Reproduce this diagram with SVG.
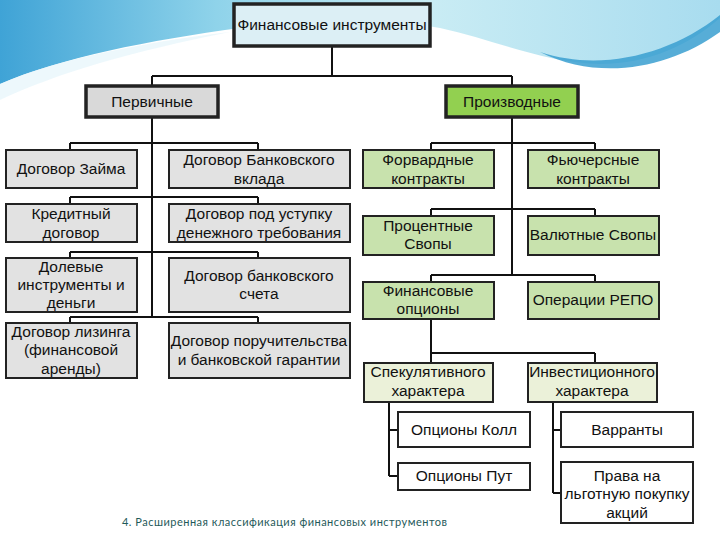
<svg xmlns="http://www.w3.org/2000/svg" width="720" height="540" viewBox="0 0 720 540">
<defs>
<linearGradient id="sky" x1="0" y1="0" x2="1" y2="0">
<stop offset="0" stop-color="#3fa3d6"/>
<stop offset="0.3" stop-color="#8fd3ea"/>
<stop offset="0.6" stop-color="#c9ecf4"/>
<stop offset="1" stop-color="#a8dcef"/>
</linearGradient>
<style>
.t{font-family:"Liberation Sans",Arial,sans-serif;font-size:15.5px;fill:#111;text-anchor:middle}
.big{font-size:15.5px}
.b{stroke:#222;stroke-width:2}
.bt{stroke:#222;stroke-width:3.5}
.gray{fill:#e2e2e2}
.green{fill:#c8e2ad}
.pale{fill:#ebf1d9}
.white{fill:#ffffff}
.c{fill:none;stroke:#111;stroke-width:2}
</style>
</defs>
<rect width="720" height="540" fill="#ffffff"/>
<g id="background">
<path d="M0,0 H720 V18 C690,44 650,64 600,64 C545,63 495,40 440,28 C380,17 300,20 240,28 C150,40 60,58 0,84 Z" fill="url(#sky)"/>
<path d="M0,84 C50,62 130,44 230,32 C130,52 60,72 0,100 Z" fill="#e8f6fb" opacity="0.8"/>
<path d="M540,52 C600,72 670,55 720,15 V32 C670,68 600,82 540,52 Z" fill="#3a9fd0" opacity="0.85"/>
</g>
<g id="connectors">
<path class="c" d="M332,46 V76 M152,76 H512 M152,76 V86 M512,76 V86"/>
<path class="c" d="M152,117 V317 M70,143 H258 M70,143 V150 M258,143 V150 M70,197 H258 M70,197 V204 M258,197 V204 M70,252 H258 M70,252 V258 M258,252 V258 M70,317 H258 M70,317 V323 M258,317 V323"/>
<path class="c" d="M512,117 V275 M431,143 H595 M431,143 V150 M595,143 V150 M431,209 H595 M431,209 V216 M595,209 V216 M431,275 H595 M431,275 V282 M595,275 V282"/>
<path class="c" d="M431,319 V353 M431,353 H595 M431,353 V363 M595,353 V363"/>
<path class="c" d="M389,402 V476 M389,430 H398 M389,476 H398 M553,402 V493 M553,430 H561 M553,493 H561"/>
</g>
<g id="root"><rect class="bt" x="234" y="4" width="196" height="42" fill="#dceff5"/><text class="t big" x="332" y="30">Финансовые инструменты</text></g>
<g id="primary"><rect class="bt" x="86" y="86" width="132" height="31" fill="#d9d9d9"/><text class="t big" x="152" y="107">Первичные</text></g>
<g id="derivative"><rect class="bt" x="446" y="86" width="132" height="31" fill="#92d050"/><text class="t big" x="512" y="107">Производные</text></g>

<g id="loan"><rect class="b gray" x="6" y="150" width="131" height="38"/><text class="t" x="71" y="174">Договор Займа</text></g>
<g id="deposit"><rect class="b gray" x="169" y="150" width="181" height="38"/><text class="t" x="259" y="165">Договор Банковского</text><text class="t" x="259" y="184">вклада</text></g>
<g id="credit"><rect class="b gray" x="6" y="204" width="131" height="38"/><text class="t" x="71" y="219">Кредитный</text><text class="t" x="71" y="238">договор</text></g>
<g id="assignment"><rect class="b gray" x="169" y="204" width="181" height="38"/><text class="t" x="259" y="219">Договор под уступку</text><text class="t" x="259" y="238">денежного требования</text></g>
<g id="equity"><rect class="b gray" x="6" y="258" width="131" height="54"/><text class="t" x="71" y="272">Долевые</text><text class="t" x="71" y="290">инструменты и</text><text class="t" x="71" y="308">деньги</text></g>
<g id="account"><rect class="b gray" x="169" y="258" width="181" height="54"/><text class="t" x="259" y="281">Договор банковского</text><text class="t" x="259" y="299">счета</text></g>
<g id="leasing"><rect class="b gray" x="6" y="323" width="131" height="55"/><text class="t" x="71" y="337">Договор лизинга</text><text class="t" x="71" y="355">(финансовой</text><text class="t" x="71" y="374">аренды)</text></g>
<g id="guarantee"><rect class="b gray" x="169" y="323" width="181" height="55"/><text class="t" x="259" y="346">Договор поручительства</text><text class="t" x="259" y="365">и банковской гарантии</text></g>

<g id="forward"><rect class="b green" x="363" y="150" width="131" height="38"/><text class="t" x="428" y="165">Форвардные</text><text class="t" x="428" y="184">контракты</text></g>
<g id="futures"><rect class="b green" x="528" y="150" width="131" height="38"/><text class="t" x="593" y="165">Фьючерсные</text><text class="t" x="593" y="184">контракты</text></g>
<g id="irs"><rect class="b green" x="363" y="216" width="131" height="39"/><text class="t" x="428" y="231">Процентные</text><text class="t" x="428" y="249">Свопы</text></g>
<g id="fxswap"><rect class="b green" x="528" y="216" width="131" height="39"/><text class="t" x="593" y="240">Валютные Свопы</text></g>
<g id="options"><rect class="b green" x="363" y="282" width="131" height="37"/><text class="t" x="428" y="296">Финансовые</text><text class="t" x="428" y="314">опционы</text></g>
<g id="repo"><rect class="b green" x="528" y="282" width="131" height="37"/><text class="t" x="593" y="305">Операции РЕПО</text></g>

<g id="speculative"><rect class="b pale" x="364" y="363" width="129" height="39"/><text class="t" x="428" y="377">Спекулятивного</text><text class="t" x="428" y="396">характера</text></g>
<g id="investment"><rect class="b pale" x="528" y="363" width="129" height="39"/><text class="t" x="592" y="377">Инвестиционного</text><text class="t" x="592" y="396">характера</text></g>
<g id="call"><rect class="b white" x="398" y="412" width="132" height="35"/><text class="t" x="464" y="435">Опционы Колл</text></g>
<g id="put"><rect class="b white" x="398" y="463" width="132" height="27"/><text class="t" x="464" y="481">Опционы Пут</text></g>
<g id="warrants"><rect class="b white" x="561" y="412" width="132" height="35"/><text class="t" x="627" y="435">Варранты</text></g>
<g id="rights"><rect class="b white" x="561" y="462" width="132" height="61"/><text class="t" x="627" y="481">Права на</text><text class="t" x="627" y="499">льготную покупку</text><text class="t" x="627" y="518">акций</text></g>

<text x="122" y="526" textLength="325" style="font-family:Lato,'Open Sans',sans-serif;font-size:11px;fill:#1f5a5a">4. Расширенная классификация финансовых инструментов</text>
</svg>
